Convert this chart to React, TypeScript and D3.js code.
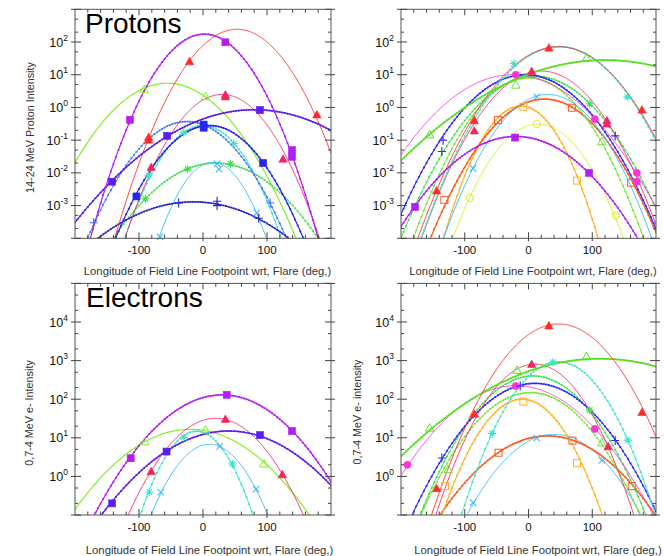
import React from 'react';
import * as d3 from 'd3';

// ---------- axis data ----------
const lonDomain: [number, number] = [-200, 200];
const lonMajorTicks = [-100, 0, 100];
const lonMinorTicks = d3.range(-180, 200, 20);
const protonExponents = [2, 1, 0, -1, -2, -3];
const electronExponents = [4, 3, 2, 1, 0];
const protonDomain: [number, number] = [1e-4, 1e3];
const electronDomain: [number, number] = [1e-1, 1e5];
const xTitle = 'Longitude of Field Line Footpoint wrt, Flare (deg,)';

// ---------- series data: Gaussian fits (center deg, peak intensity, sigma deg) + measured points ----------
type Series = { key: string; center: number; peak: number; sigma: number; points: [number, number][] };

const protonsLeft: Series[] = [
  { key: 'lime', center: -56, peak: 5.5, sigma: 43.1, points: [[-92, 3.5], [4, 2.1]] },
  { key: 'greenStar', center: 20, peak: 0.020, sigma: 49.1, points: [[-24, 0.013], [43, 0.019], [-90, 0.0016]] },
  { key: 'skyX', center: 15, peak: 0.021, sigma: 25.7, points: [[22, 0.019], [25, 0.013], [-67, 0.00011], [84, 0.0006]] },
  { key: 'turquoise', center: 0, peak: 0.28, sigma: 30.7, points: [[-30, 0.17], [48, 0.079], [-85, 0.0085]] },
  { key: 'medBlue', center: -25, peak: 0.37, sigma: 38.3, points: [[-171, 0.0003], [105, 0.0012]] },
  { key: 'darkBlue', center: -15, peak: 0.0013, sigma: 65.9, points: [[-38, 0.0012], [22, 0.00135], [22, 0.001], [87, 0.00041]] },
  { key: 'crimson', center: 30, peak: 2.5, sigma: 33.8, points: [[35, 2.4], [35, 2.1], [-81, 0.0145], [125, 0.026]] },
  { key: 'red', center: 53, peak: 245, sigma: 35.2, points: [[-21, 25], [178, 0.59], [-85, 0.12], [-85, 0.10]] },
  { key: 'blueSq', center: 10, peak: 0.28, sigma: 36.8, points: [[1, 0.30], [1, 0.24], [94, 0.020], [-104, 0.0019]] },
  { key: 'violet', center: 80, peak: 0.85, sigma: 70.3, points: [[89, 0.83], [-56, 0.135], [-142, 0.0054]] },
  { key: 'purple', center: 2, peak: 174, sigma: 33.2, points: [[35, 98], [-114, 0.42], [139, 0.050], [139, 0.031]] },
];

const protonsRight: Series[] = [
  { key: 'yellowGreen', center: 15, peak: 0.31, sigma: 33.4, points: [[13, 0.31], [-92, 0.0017], [137, 0.00049]] },
  { key: 'orange', center: -12, peak: 1.1, sigma: 28.1, points: [[-8, 1.05], [76, 0.0058]] },
  { key: 'orangeRed', center: 25, peak: 1.8, sigma: 40.4, points: [[68, 0.98], [-48, 0.41], [161, 0.005], [-132, 0.0015]] },
  { key: 'skyX', center: 30, peak: 2.5, sigma: 36.3, points: [[13, 2.1], [-87, 0.0138]] },
  { key: 'greenTri', center: 0, peak: 8, sigma: 38, points: [[-20, 4.8], [115, 0.089]] },
  { key: 'greenStar', center: 10, peak: 9, sigma: 44, points: [[96, 1.3]] },
  { key: 'magenta', center: -25, peak: 10, sigma: 52.1, points: [[-20, 10], [104, 0.44], [170, 0.010], [170, 0.0054]] },
  { key: 'crimson', center: 20, peak: 13, sigma: 38.7, points: [[5, 12.5], [123, 0.39], [123, 0.31], [-85, 0.19]] },
  { key: 'bluePlus', center: -5, peak: 10, sigma: 44, points: [[-134, 0.10], [-136, 0.045], [136, 0.135]] },
  { key: 'turquoise', center: 48, peak: 72, sigma: 41.7, points: [[-23, 22], [155, 2.1]] },
  { key: 'red', center: 47, peak: 72, sigma: 42.5, points: [[32, 65], [178, 0.83], [-85, 0.39], [-144, 0.0028]] },
  { key: 'brightGreen', center: 120, peak: 28, sigma: 85.1, points: [[91, 32], [-155, 0.145]] },
  { key: 'purple', center: -20, peak: 0.13, sigma: 50.5, points: [[-21, 0.12], [95, 0.010], [-178, 0.00091]] },
];

const electronsLeft: Series[] = [
  { key: 'lime', center: -20, peak: 16.6, sigma: 58.2, points: [[4, 15.8], [-91, 7.9], [95, 2.1]] },
  { key: 'skyX', center: 10, peak: 6.8, sigma: 31.4, points: [[26, 6.0], [-66, 0.39], [83, 0.47]] },
  { key: 'turquoise', center: -10, peak: 14.8, sigma: 27.8, points: [[-30, 10.2], [46, 2.1], [-84, 0.39]] },
  { key: 'crimson', center: 20, peak: 32, sigma: 40.3, points: [[35, 30], [-81, 1.32], [124, 1.1]] },
  { key: 'violet', center: 40, peak: 15, sigma: 62.8, points: [[89, 11.7], [-57, 4.4], [-142, 0.2]] },
  { key: 'purple', center: 30, peak: 129, sigma: 52.8, points: [[37, 130], [139, 15], [-113, 2.95]] },
];

const electronsRight: Series[] = [
  { key: 'skyX', center: 40, peak: 12.3, sigma: 44, points: [[13, 9.8], [-87, 0.21], [115, 2.6]] },
  { key: 'orangeRed', center: 30, peak: 11.2, sigma: 54.9, points: [[69, 8.5], [-47, 4.1], [162, 0.56]] },
  { key: 'orange', center: -10, peak: 100, sigma: 33.8, points: [[-8, 87], [76, 2.2], [-131, 0.56]] },
  { key: 'greenTri', center: 3, peak: 148, sigma: 45, points: [[115, 7.4], [-126, 1.5]] },
  { key: 'greenStar', center: 7, peak: 400, sigma: 43.5, points: [[96, 52]] },
  { key: 'magenta', center: -20, peak: 224, sigma: 54.9, points: [[-20, 220], [104, 17], [-190, 2.0]] },
  { key: 'bluePlus', center: 10, peak: 257, sigma: 48.6, points: [[-13, 220], [-136, 3.0], [136, 8.5]] },
  { key: 'crimson', center: 10, peak: 810, sigma: 36.6, points: [[5, 790], [125, 5.9]] },
  { key: 'turquoise', center: 47, peak: 930, sigma: 35.6, points: [[38, 910], [-57, 13], [156, 8.7]] },
  { key: 'brightGreen', center: 112, peak: 1120, sigma: 91.4, points: [[91, 1260], [-155, 17.8], [-18, 560]] },
  { key: 'red', center: 47, peak: 8900, sigma: 41.7, points: [[32, 7900], [178, 45], [-144, 0.48], [-85, 41]] },
];

// ---------- styles ----------
type Style = { color: string; width: number; dots: boolean; marker: string; open: boolean };
const styles: Record<string, Style> = {
  purple: { color: '#b21ef2', width: 1.2, dots: true, marker: 'square', open: false },
  violet: { color: '#5a1ef0', width: 1.3, dots: true, marker: 'square', open: false },
  blueSq: { color: '#2626ee', width: 1.2, dots: true, marker: 'square', open: false },
  red: { color: '#ff2a2a', width: 0.9, dots: false, marker: 'triangle', open: false },
  crimson: { color: '#f5245c', width: 0.9, dots: false, marker: 'triangle', open: false },
  lime: { color: '#84ee2a', width: 1.2, dots: false, marker: 'triangle', open: true },
  brightGreen: { color: '#56e01e', width: 1.5, dots: true, marker: 'triangle', open: true },
  greenTri: { color: '#72e434', width: 1, dots: true, marker: 'triangle', open: true },
  greenStar: { color: '#3ee04a', width: 1, dots: true, marker: 'star', open: false },
  turquoise: { color: '#3ee2cc', width: 1, dots: true, marker: 'star', open: false },
  skyX: { color: '#3ebcff', width: 1, dots: false, marker: 'x', open: false },
  medBlue: { color: '#3c74ff', width: 1, dots: true, marker: 'plus', open: false },
  darkBlue: { color: '#2626c8', width: 1.1, dots: true, marker: 'plus', open: false },
  bluePlus: { color: '#2a2aff', width: 1.1, dots: true, marker: 'plus', open: false },
  magenta: { color: '#ff34d2', width: 0.9, dots: false, marker: 'circle', open: false },
  orange: { color: '#ffb222', width: 1.1, dots: true, marker: 'square', open: true },
  orangeRed: { color: '#ff5a1e', width: 1.3, dots: true, marker: 'square', open: true },
  yellowGreen: { color: '#d2ec22', width: 0.9, dots: false, marker: 'circle', open: true },
};

const FONT = "'Liberation Sans', Arial, Helvetica, sans-serif";

function Marker({ kind, cx, cy, color, open }: { kind: string; cx: number; cy: number; color: string; open: boolean }) {
  const fill = open ? 'none' : color;
  const sw = open ? 1 : 0.6;
  if (kind === 'square') {
    return <rect x={cx - 3.5} y={cy - 3.5} width={7} height={7} fill={fill} stroke={color} strokeWidth={sw} />;
  }
  if (kind === 'triangle') {
    return <path d={`M${cx},${cy - 4.5}L${cx + 4.2},${cy + 3}L${cx - 4.2},${cy + 3}Z`} fill={fill} stroke={color} strokeWidth={sw} />;
  }
  if (kind === 'circle') {
    return <circle cx={cx} cy={cy} r={3.6} fill={fill} stroke={color} strokeWidth={sw} />;
  }
  const r = 4;
  let d = '';
  if (kind === 'plus') d = `M${cx - r},${cy}H${cx + r}M${cx},${cy - r - 0.5}V${cy + r + 0.5}`;
  else if (kind === 'x') d = `M${cx - r * 0.8},${cy - r * 0.8}L${cx + r * 0.8},${cy + r * 0.8}M${cx - r * 0.8},${cy + r * 0.8}L${cx + r * 0.8},${cy - r * 0.8}`;
  else d = `M${cx - r},${cy}H${cx + r}M${cx},${cy - r}V${cy + r}M${cx - r * 0.7},${cy - r * 0.7}L${cx + r * 0.7},${cy + r * 0.7}M${cx - r * 0.7},${cy + r * 0.7}L${cx + r * 0.7},${cy - r * 0.7}`;
  return <path d={d} stroke={color} strokeWidth={1.1} fill="none" />;
}

type PanelProps = {
  id: string;
  box: { l: number; r: number; t: number; b: number };
  yDomain: [number, number];
  exps: number[];
  series: Series[];
  yTitle?: { text: string; x: number; y: number };
  xTitlePos: { x: number; y: number };
  label?: { text: string; x: number; y: number };
};

function Panel({ id, box, yDomain, exps, series, yTitle, xTitlePos, label }: PanelProps) {
  const x = d3.scaleLinear().domain(lonDomain).range([box.l, box.r]);
  const y = d3.scaleLog().domain(yDomain).range([box.b, box.t]);
  const lonSamples = d3.range(lonDomain[0], lonDomain[1] + 0.5, 1);
  const dotSamples = d3.range(lonDomain[0], lonDomain[1] + 0.5, 4);
  const gauss = (s: Series, lon: number) => s.peak * Math.exp(-((lon - s.center) ** 2) / (2 * s.sigma * s.sigma));

  const lo = Math.log10(yDomain[0]);
  const hi = Math.log10(yDomain[1]);
  const minorY: number[] = [];
  for (let e = lo; e < hi; e++) {
    minorY.push(2 * 10 ** e, 5 * 10 ** e);
  }
  const majorY = d3.range(lo, hi + 1).map((e) => 10 ** e);

  return (
    <g>
      <defs>
        <clipPath id={`clip-${id}`}>
          <rect x={box.l} y={box.t} width={box.r - box.l} height={box.b - box.t} />
        </clipPath>
      </defs>
      <g clipPath={`url(#clip-${id})`}>
        {series.map((s, i) => {
          const st = styles[s.key];
          const pathGen = d3
            .line<number>()
            .x((lon) => x(lon))
            .y((lon) => {
              const v = y(Math.max(gauss(s, lon), 1e-60));
              return Math.min(v, box.b + 400);
            });
          return (
            <g key={i}>
              <path d={pathGen(lonSamples) || ''} fill="none" stroke={st.color} strokeWidth={st.width} />
              {st.dots &&
                dotSamples.map((lon, j) => {
                  const v = gauss(s, lon);
                  const py = y(Math.max(v, 1e-60));
                  if (py > box.b + 3) return null;
                  return <rect key={j} x={x(lon) - 0.9} y={py - 0.9} width={1.8} height={1.8} fill={st.color} />;
                })}
            </g>
          );
        })}
      </g>
      {series.map((s, i) => {
        const st = styles[s.key];
        return (
          <g key={`m${i}`}>
            {s.points.map((p, j) => (
              <Marker key={j} kind={st.marker} cx={x(p[0])} cy={y(p[1])} color={st.color} open={st.open} />
            ))}
          </g>
        );
      })}
      {/* frame */}
      <rect x={box.l} y={box.t} width={box.r - box.l} height={box.b - box.t} fill="none" stroke="#555" strokeWidth={1} />
      {/* y ticks */}
      {majorY.map((v, i) => (
        <g key={`ym${i}`} stroke="#444" strokeWidth={1}>
          <line x1={box.l - 4} x2={box.l + 6} y1={y(v)} y2={y(v)} />
          <line x1={box.r - 6} x2={box.r + 4} y1={y(v)} y2={y(v)} />
        </g>
      ))}
      {minorY.map((v, i) => (
        <g key={`yn${i}`} stroke="#444" strokeWidth={1}>
          <line x1={box.l} x2={box.l + 3} y1={y(v)} y2={y(v)} />
          <line x1={box.r - 3} x2={box.r} y1={y(v)} y2={y(v)} />
        </g>
      ))}
      {/* x ticks */}
      {lonMinorTicks.map((v, i) => {
        const major = lonMajorTicks.includes(v);
        const len = major ? 6 : 3.5;
        return (
          <g key={`x${i}`} stroke="#444" strokeWidth={1}>
            <line x1={x(v)} x2={x(v)} y1={box.b - len} y2={box.b + (major ? 3 : 0)} />
            <line x1={x(v)} x2={x(v)} y1={box.t} y2={box.t + len} />
          </g>
        );
      })}
      {/* tick labels */}
      {lonMajorTicks.map((v, i) => (
        <text key={`xl${i}`} x={x(v)} y={box.b + 16} textAnchor="middle" fontFamily={FONT} fontSize={11.5} fill="#111">
          {v}
        </text>
      ))}
      {exps.map((e, i) => (
        <text key={`yl${i}`} x={box.l - 7} y={y(10 ** e) + 4.5} textAnchor="end" fontFamily={FONT} fontSize={12.5} fill="#111">
          10
          <tspan dy={-6} fontSize={8.5}>
            {e}
          </tspan>
        </text>
      ))}
      <text x={xTitlePos.x} y={xTitlePos.y} textAnchor="middle" fontFamily={FONT} fontSize={11.3} fill="#333">
        {xTitle}
      </text>
      {yTitle && (
        <text
          transform={`translate(${yTitle.x},${yTitle.y}) rotate(-90)`}
          textAnchor="middle"
          fontFamily={FONT}
          fontSize={10.8}
          fill="#333"
        >
          {yTitle.text}
        </text>
      )}
      {label && (
        <text x={label.x} y={label.y} fontFamily={FONT} fontSize={28} fill="#000">
          {label.text}
        </text>
      )}
    </g>
  );
}

export default function App() {
  return (
    <svg
      width={664}
      height={556}
      viewBox="0 0 664 556"
      style={{ position: 'absolute', left: 0, top: 0, background: '#fff', display: 'block' }}
    >
      <rect x={0} y={0} width={664} height={556} fill="#fff" />
      <Panel
        id="tl"
        box={{ l: 75, r: 331, t: 9.3, b: 238.3 }}
        yDomain={protonDomain}
        exps={protonExponents}
        series={protonsLeft}
        yTitle={{ text: '14-24 MeV Proton Intensity', x: 34, y: 127.5 }}
        xTitlePos={{ x: 207.5, y: 275 }}
        label={{ text: 'Protons', x: 85, y: 33 }}
      />
      <Panel
        id="tr"
        box={{ l: 401, r: 656, t: 9.3, b: 238.3 }}
        yDomain={protonDomain}
        exps={protonExponents}
        series={protonsRight}
        xTitlePos={{ x: 533, y: 275 }}
      />
      <Panel
        id="bl"
        box={{ l: 75, r: 331, t: 283.4, b: 515 }}
        yDomain={electronDomain}
        exps={electronExponents}
        series={electronsLeft}
        yTitle={{ text: '0,7-4 MeV e- Intensity', x: 33, y: 413 }}
        xTitlePos={{ x: 209.5, y: 554 }}
        label={{ text: 'Electrons', x: 86, y: 307 }}
      />
      <Panel
        id="br"
        box={{ l: 401, r: 656, t: 283.4, b: 515 }}
        yDomain={electronDomain}
        exps={electronExponents}
        series={electronsRight}
        yTitle={{ text: '0,7-4 MeV e- intensity', x: 361, y: 412 }}
        xTitlePos={{ x: 538, y: 554 }}
      />
    </svg>
  );
}
